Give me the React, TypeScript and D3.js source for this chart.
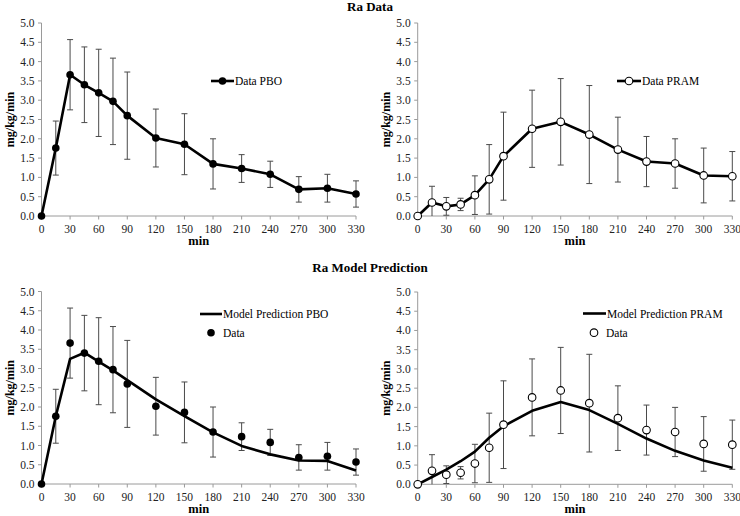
import React from 'react';
import * as d3 from 'd3';

const times = [0, 15, 30, 45, 60, 75, 90, 120, 150, 180, 210, 240, 270, 300, 330];
const pboMean = [0, 1.76, 3.66, 3.40, 3.19, 2.97, 2.60, 2.02, 1.86, 1.35, 1.23, 1.08, 0.69, 0.72, 0.57];
const pboSd = [0, 0.70, 0.91, 0.98, 1.13, 1.12, 1.13, 0.75, 0.79, 0.65, 0.36, 0.34, 0.33, 0.36, 0.34];
const pramMean = [0, 0.35, 0.25, 0.30, 0.54, 0.95, 1.55, 2.26, 2.44, 2.11, 1.72, 1.41, 1.36, 1.05, 1.03];
const pramSd = [0, 0.42, 0.23, 0.16, 0.50, 0.90, 1.14, 1.00, 1.12, 1.27, 0.84, 0.65, 0.64, 0.71, 0.64];
const pboModel = [0, 1.76, 3.25, 3.41, 3.18, 2.95, 2.70, 2.20, 1.76, 1.34, 0.99, 0.77, 0.61, 0.60, 0.35];
const pramModel = [0, 0.19, 0.38, 0.60, 0.85, 1.21, 1.51, 1.91, 2.14, 1.93, 1.57, 1.19, 0.87, 0.62, 0.43];
const xTicks = [0, 30, 60, 90, 120, 150, 180, 210, 240, 270, 300, 330];
const yTicks = [0, 0.5, 1, 1.5, 2, 2.5, 3, 3.5, 4, 4.5, 5];
const titles = ['Ra Data', 'Ra Model Prediction'];

const FONT = "'Liberation Serif', 'Times New Roman', Times, serif";
const AXIS = '#9a9a9a';
const ERR = '#4a4a4a';
const ts = { fontFamily: FONT };

type PanelProps = {
  left: number; right: number; top: number; bottom: number;
  mean: number[]; sd: number[]; model?: number[]; filled: boolean;
  legendLine: [number, number, number]; legendText: string;
  dataLegend?: [number, number];
};

function Panel(p: PanelProps) {
  const x = d3.scaleLinear().domain([0, 330]).range([p.left, p.right]);
  const y = d3.scaleLinear().domain([0, 5]).range([p.bottom, p.top]);
  const fmt = d3.format('.1f');
  const pts = times.map((t, i) => ({ t, m: p.mean[i], s: p.sd[i] }));
  const line = d3.line<number>().x((_, i) => x(times[i])).y((v) => y(v));
  const pathData = p.model ? line(p.model) : line(p.mean);
  const r = 3.8;
  const marker = (cx: number, cy: number, key?: any) => (
    <circle key={key} cx={cx} cy={cy} r={r}
      fill={p.filled ? '#000' : '#fff'} stroke="#000" strokeWidth={p.filled ? 0 : 1.1} />
  );
  const [lx1, lx2, ly] = p.legendLine;
  return (
    <g>
      <line x1={p.left} x2={p.left} y1={p.top} y2={p.bottom} stroke={AXIS} strokeWidth={1} />
      <line x1={p.left} x2={p.right} y1={p.bottom} y2={p.bottom} stroke={AXIS} strokeWidth={1} />
      {yTicks.map((v) => (
        <g key={'y' + v}>
          <line x1={p.left - 3.5} x2={p.left} y1={y(v)} y2={y(v)} stroke={AXIS} />
          <text style={ts} x={p.left - 7} y={y(v)} dy="0.35em" textAnchor="end" fontSize={11.5} fill="#222">{fmt(v)}</text>
        </g>
      ))}
      {xTicks.map((v) => (
        <g key={'x' + v}>
          <line x1={x(v)} x2={x(v)} y1={p.bottom} y2={p.bottom + 3.5} stroke={AXIS} />
          <text style={ts} x={x(v)} y={p.bottom + 17} textAnchor="middle" fontSize={11.5} fill="#222">{v}</text>
        </g>
      ))}
      <text style={ts} x={(p.left + p.right) / 2} y={p.bottom + 28.5} textAnchor="middle" fontSize={12.5} fontWeight="bold">min</text>
      <text style={ts} transform={`translate(${p.left - 28},${(p.top + p.bottom) / 2}) rotate(-90)`} textAnchor="middle" fontSize={12} fontWeight="bold">mg/kg/min</text>
      {pts.filter((d) => d.s > 0).map((d, i) => {
        const hi = y(d.m + d.s);
        const lo = y(Math.max(0, d.m - d.s));
        const cx = x(d.t);
        return (
          <g key={'e' + i} stroke={ERR} strokeWidth={1}>
            <line x1={cx} x2={cx} y1={hi} y2={lo} />
            <line x1={cx - 3} x2={cx + 3} y1={hi} y2={hi} />
            {d.m - d.s > 0 && <line x1={cx - 3} x2={cx + 3} y1={lo} y2={lo} />}
          </g>
        );
      })}
      <path d={pathData || ''} fill="none" stroke="#000" strokeWidth={2.6} strokeLinejoin="round" />
      {pts.map((d, i) => marker(x(d.t), y(d.m), 'm' + i))}
      <line x1={lx1} x2={lx2} y1={ly} y2={ly} stroke="#000" strokeWidth={2.6} />
      {!p.model && marker((lx1 + lx2) / 2, ly)}
      <text style={ts} x={lx2 + 1} y={ly} dy="0.35em" fontSize={11.5}>{p.legendText}</text>
      {p.dataLegend && (
        <g>
          {marker(p.dataLegend[0], p.dataLegend[1])}
          <text style={ts} x={p.dataLegend[0] + 12} y={p.dataLegend[1]} dy="0.35em" fontSize={11.5}>Data</text>
        </g>
      )}
    </g>
  );
}

export default function App() {
  return (
    <svg width={740} height={516} style={{ position: 'absolute', left: 0, top: 0, background: '#fff', fontFamily: FONT }}>
      <rect width={740} height={516} fill="#fff" />
      <text style={ts} x={370} y={11} textAnchor="middle" fontSize={13} fontWeight="bold">{titles[0]}</text>
      <text style={ts} x={370} y={271.5} textAnchor="middle" fontSize={13} fontWeight="bold">{titles[1]}</text>
      <Panel left={41.5} right={356} top={23} bottom={216} mean={pboMean} sd={pboSd} filled={true}
        legendLine={[211, 234, 81]} legendText="Data PBO" />
      <Panel left={417.7} right={732.3} top={23} bottom={216} mean={pramMean} sd={pramSd} filled={false}
        legendLine={[617, 641, 81]} legendText="Data PRAM" />
      <Panel left={41.5} right={356} top={291.5} bottom={484} mean={pboMean} sd={pboSd} model={pboModel} filled={true}
        legendLine={[200, 222, 314]} legendText="Model Prediction PBO" dataLegend={[211, 332.7]} />
      <Panel left={417.7} right={732.3} top={292} bottom={484.3} mean={pramMean} sd={pramSd} model={pramModel} filled={false}
        legendLine={[583, 606, 313.5]} legendText="Model Prediction PRAM" dataLegend={[594, 332.7]} />
    </svg>
  );
}
